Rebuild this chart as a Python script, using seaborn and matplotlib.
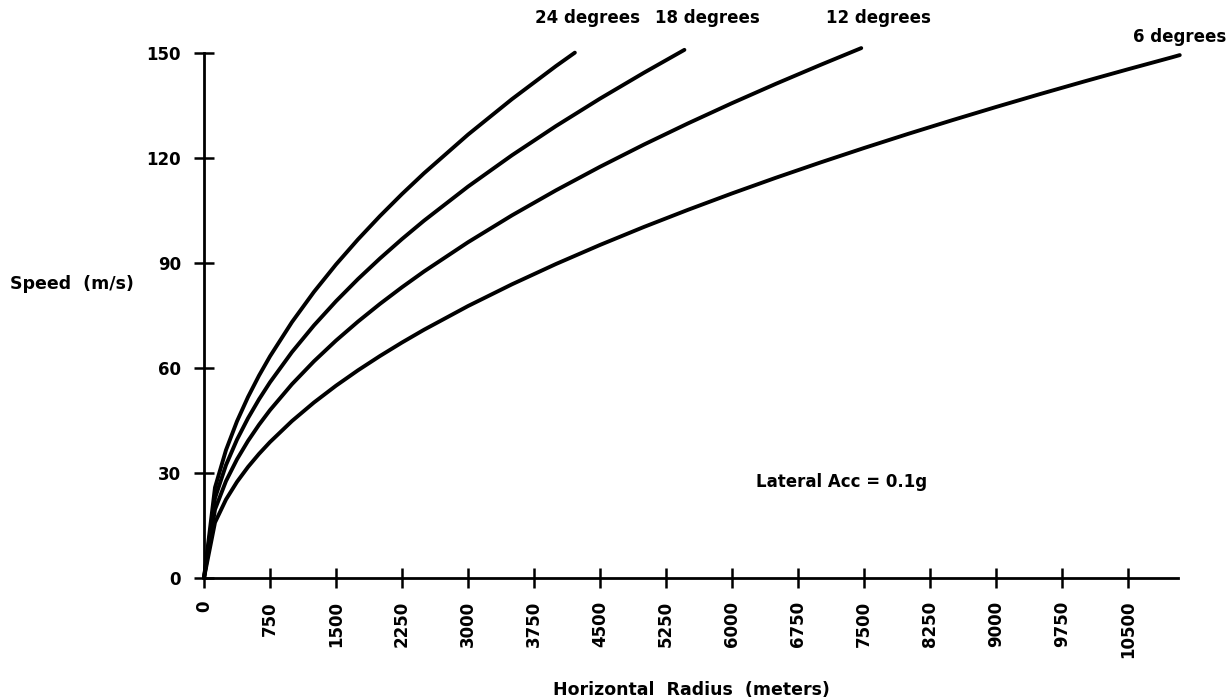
import matplotlib
matplotlib.use("Agg")
import matplotlib.pyplot as plt
import pandas as pd
import seaborn as sns

# Speed (m/s) against horizontal radius (m) for four bank angles, lateral acc = 0.1 g
radius_24 = [0, 125, 250, 375, 500, 625, 750, 1000, 1250, 1500, 1750, 2000, 2250, 2500,
             3000, 3500, 4000, 4215]
speed_24 = [0, 25.86, 36.56, 44.78, 51.71, 57.82, 63.33, 73.13, 81.76, 89.57, 96.74,
            103.42, 109.70, 115.63, 126.67, 136.82, 146.26, 150.1]

radius_18 = [0, 125, 250, 375, 500, 625, 750, 1000, 1250, 1500, 1750, 2000, 2250, 2500,
             3000, 3500, 4000, 4500, 5000, 5460]
speed_18 = [0, 22.83, 32.28, 39.54, 45.65, 51.04, 55.91, 64.56, 72.18, 79.07, 85.41,
            91.30, 96.84, 102.08, 111.82, 120.78, 129.12, 136.95, 144.36, 150.9]

radius_12 = [0, 125, 250, 375, 500, 625, 750, 1000, 1250, 1500, 1750, 2000, 2250, 2500,
             3000, 3500, 4000, 4500, 5000, 5500, 6000, 6500, 7000, 7470]
speed_12 = [0, 19.58, 27.69, 33.91, 39.16, 43.78, 47.96, 55.38, 61.92, 67.83, 73.26,
            78.32, 83.07, 87.57, 95.92, 103.61, 110.76, 117.48, 123.84, 129.88, 135.66,
            141.20, 146.53, 151.4]

radius_6 = [0, 125, 250, 375, 500, 625, 750, 1000, 1250, 1500, 1750, 2000, 2250, 2500,
            3000, 3500, 4000, 4500, 5000, 5500, 6000, 6500, 7000, 7500, 8000, 8500, 9000,
            9500, 10000, 10500, 11000, 11090]
speed_6 = [0, 15.86, 22.43, 27.47, 31.72, 35.46, 38.84, 44.85, 50.15, 54.94, 59.34, 63.43,
           67.28, 70.92, 77.69, 83.91, 89.71, 95.15, 100.30, 105.19, 109.87, 114.36,
           118.67, 122.84, 126.87, 130.77, 134.56, 138.25, 141.84, 145.34, 148.76, 149.4]

curve_labels = ["24 degrees", "18 degrees", "12 degrees", "6 degrees"]
x_ticks = [0, 750, 1500, 2250, 3000, 3750, 4500, 5250, 6000, 6750, 7500, 8250, 9000,
           9750, 10500]
y_ticks = [0, 30, 60, 90, 120, 150]

frames = []
for name, r, v in zip(curve_labels,
                      [radius_24, radius_18, radius_12, radius_6],
                      [speed_24, speed_18, speed_12, speed_6]):
    frames.append(pd.DataFrame({"radius": r, "speed": v, "bank": name}))
df = pd.concat(frames, ignore_index=True)

sns.set_style("ticks")
plt.rcParams["font.family"] = ["DejaVu Sans"]
plt.rcParams["font.weight"] = "bold"
plt.rcParams["text.color"] = "black"
plt.rcParams["xtick.color"] = "black"
plt.rcParams["ytick.color"] = "black"

fig = plt.figure(figsize=(12.29, 7.0), dpi=100)
ax = fig.add_axes([204 / 1229, 1 - 578 / 700, (1178 - 204) / 1229, (578 - 53) / 700])

sns.lineplot(data=df, x="radius", y="speed", hue="bank", units="bank",
             palette=["black"] * 4, estimator=None, sort=False, legend=False,
             linewidth=2.8, ax=ax)
for line in ax.lines:
    line.set_clip_on(False)
    line.set_solid_capstyle("round")
    line.set_solid_joinstyle("round")

ax.set_xlim(0, 11070)
ax.set_ylim(0, 150)
ax.set_xticks(x_ticks)
ax.set_yticks(y_ticks)
ax.set_xticklabels([str(t) for t in x_ticks], rotation=90, fontsize=12,
                   fontweight="bold")
ax.set_yticklabels([str(t) for t in y_ticks], fontsize=12, fontweight="bold")
ax.tick_params(axis="both", direction="inout", length=15, width=1.8, color="black",
               bottom=True, left=True, labelcolor="black")
ax.tick_params(axis="y", pad=9)
ax.tick_params(axis="x", pad=9)

for side in ["top", "right"]:
    ax.spines[side].set_visible(False)
for side in ["left", "bottom"]:
    ax.spines[side].set_linewidth(2.0)
    ax.spines[side].set_color("black")

ax.set_xlabel("Horizontal  Radius  (meters)", fontsize=12.5, fontweight="bold",
              labelpad=16, color="black")
ax.set_ylabel("")
fig.text(10 / 1229, 1 - 284 / 700, "Speed  (m/s)", fontsize=12.5, fontweight="bold",
         ha="left", va="center", color="black")

# Curve labels above the plotting area
label_pos = {"24 degrees": (4360, 160.0), "18 degrees": (5720, 160.0),
             "12 degrees": (7670, 160.0), "6 degrees": (11090, 154.5)}
for name in curve_labels:
    x, y = label_pos[name]
    ax.text(x, y, name, fontsize=12, fontweight="bold", ha="center", va="center",
            clip_on=False, color="black")

ax.text(7250, 27.5, "Lateral Acc = 0.1g", fontsize=12, fontweight="bold",
        ha="center", va="center", color="black")

fig.savefig("out.png", dpi=100, facecolor="white")
